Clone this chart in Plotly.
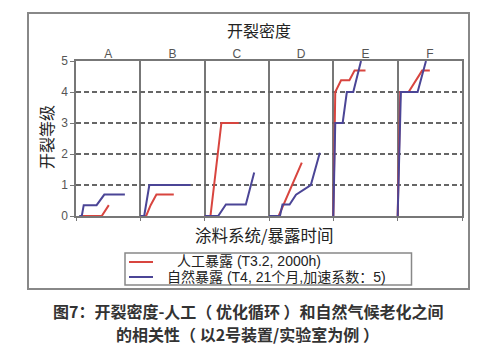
import plotly.graph_objects as go

# ---- data (per-panel x position as fraction of panel width, crack grade y) ----
panels = ["A", "B", "C", "D", "E", "F"]

red_x = {
    "A": [0.09, 0.40, 0.51],
    "B": [0.0, 0.09, 0.16, 0.25, 0.52],
    "C": [0.0, 0.09, 0.26, 0.53],
    "D": [0.0, 0.15, 0.51],
    "E": [0.0, 0.03, 0.12, 0.25, 0.33, 0.50],
    "F": [0.0, 0.04, 0.17, 0.38, 0.50],
}
red_y = {
    "A": [0, 0, 0.35],
    "B": [0, 0, 0.35, 0.69, 0.69],
    "C": [0, 0, 3.0, 3.0],
    "D": [0, 0, 1.72],
    "E": [0, 4.0, 4.38, 4.38, 4.69, 4.69],
    "F": [0, 4.0, 4.0, 4.69, 4.69],
}
blue_x = {
    "A": [0.05, 0.09, 0.12, 0.32, 0.44, 0.76],
    "B": [0.0, 0.06, 0.14, 0.78],
    "C": [0.0, 0.21, 0.33, 0.64, 0.77],
    "D": [0.0, 0.17, 0.21, 0.32, 0.42, 0.65, 0.79],
    "E": [0.0, 0.03, 0.145, 0.21, 0.31, 0.43],
    "F": [0.0, 0.05, 0.31, 0.44],
}
blue_y = {
    "A": [0, 0, 0.35, 0.35, 0.69, 0.69],
    "B": [0, 0, 1.0, 1.0],
    "C": [0, 0, 0.37, 0.37, 1.40],
    "D": [0, 0, 0.37, 0.37, 0.69, 1.0, 2.04],
    "E": [0, 3.0, 3.0, 4.0, 4.0, 5.0],
    "F": [0, 4.0, 4.0, 5.0],
}
y_ticks = [0, 1, 2, 3, 4, 5]

red_name = "人工暴露 (T3.2, 2000h)"
blue_name = "自然暴露 (T4, 21个月,加速系数：5)"
title_text = "开裂密度"
x_title = "涂料系统/暴露时间"
y_title = "开裂等级"
caption_lines = ["图7：开裂密度-人工（ 优化循环 ）和自然气候老化之间",
                 "的相关性（ 以2号装置/实验室为例 ）"]

RED = "#d8453f"
BLUE = "#4b4596"
FONT = "Liberation Sans, Arial, Noto Sans CJK SC, sans-serif"
CJK = "Noto Sans CJK SC, Liberation Sans, sans-serif"

# ---- layout geometry in px ----
W, H = 500, 351
L, T = 76, 61
PW, PH = 386, 155
R = W - L - PW
B = H - T - PH


def px(xp):
    return (xp - L) / PW


def py(yp):
    return (T + PH - yp) / PH


fig = go.Figure()
for i, p in enumerate(panels):
    fig.add_trace(go.Scatter(
        x=[i + v for v in red_x[p]], y=red_y[p], mode="lines",
        line=dict(color=RED, width=2), name=red_name,
        showlegend=False, hoverinfo="skip"))
for i, p in enumerate(panels):
    fig.add_trace(go.Scatter(
        x=[i + v for v in blue_x[p]], y=blue_y[p], mode="lines",
        line=dict(color=BLUE, width=2), name=blue_name,
        showlegend=False, hoverinfo="skip"))

# dummy trace for top axis labels
fig.add_trace(go.Scatter(x=[0, 6], y=[0, 0], xaxis="x2", mode="lines",
                         line=dict(width=0), showlegend=False, hoverinfo="skip"))

fig.update_layout(
    width=W, height=H,
    margin=dict(l=L, r=R, t=T, b=B),
    paper_bgcolor="white", plot_bgcolor="white",
    font=dict(family=FONT, color="#555"),
    xaxis=dict(range=[0, 6], tickvals=list(range(7)), showticklabels=False,
               ticks="outside", ticklen=3, tickcolor="#777",
               showgrid=True, gridcolor="#777", gridwidth=1.5,
               showline=True, linecolor="#777", linewidth=1.5, mirror=True,
               zeroline=False, fixedrange=True),
    xaxis2=dict(range=[0, 6], overlaying="x", side="top",
                tickvals=[i + 0.5 for i in range(len(panels))], ticktext=panels,
                ticks="", showgrid=False, showline=False, zeroline=False,
                tickfont=dict(size=12, color="#555", family=FONT)),
    yaxis=dict(range=[0, 5], tickvals=y_ticks, ticks="outside", ticklen=4,
               tickcolor="#777", tickfont=dict(size=12, color="#555", family=FONT),
               showgrid=True, gridcolor="#666", gridwidth=1.5, griddash="5px,3px",
               showline=True, linecolor="#777", linewidth=1.5, mirror=True,
               zeroline=False),
)

ann = []
ann.append(dict(text=title_text, x=px(259), y=py(30), xref="paper", yref="paper",
                showarrow=False, font=dict(size=16, color="#222", family=CJK),
                xanchor="center", yanchor="middle"))
ann.append(dict(text=x_title, x=px(264), y=py(235), xref="paper", yref="paper",
                showarrow=False, font=dict(size=16.5, color="#222", family=CJK),
                xanchor="center", yanchor="middle"))
ann.append(dict(text=y_title, x=px(46), y=py(137), xref="paper", yref="paper",
                showarrow=False, textangle=-90,
                font=dict(size=16, color="#222", family=CJK),
                xanchor="center", yanchor="middle"))
ann.append(dict(text=red_name, x=px(175), y=py(261), xref="paper", yref="paper",
                showarrow=False, font=dict(size=14, color="#222", family=FONT),
                xanchor="left", yanchor="middle"))
ann.append(dict(text=blue_name, x=px(165), y=py(277), xref="paper", yref="paper",
                showarrow=False, font=dict(size=14, color="#222", family=FONT),
                xanchor="left", yanchor="middle"))
for s, yc, xc in zip(caption_lines, [310.5, 334.0], [248, 247]):
    ann.append(dict(text="<b>" + s + "</b>", x=px(xc), y=py(yc), xref="paper",
                    yref="paper", showarrow=False,
                    font=dict(size=16, color="#333", family=CJK),
                    xanchor="center", yanchor="middle"))
fig.update_layout(annotations=ann)

shapes = []
# outer frame
shapes.append(dict(type="rect", xref="paper", yref="paper",
                   x0=px(28), x1=px(469), y0=py(289), y1=py(13),
                   line=dict(color="#888", width=2), fillcolor="rgba(0,0,0,0)"))
# legend box
shapes.append(dict(type="rect", xref="paper", yref="paper",
                   x0=px(125), x1=px(411.5), y0=py(285), y1=py(253),
                   line=dict(color="#888", width=1.5), fillcolor="rgba(0,0,0,0)"))
shapes.append(dict(type="line", xref="paper", yref="paper",
                   x0=px(129), x1=px(153), y0=py(262), y1=py(262),
                   line=dict(color=RED, width=2)))
shapes.append(dict(type="line", xref="paper", yref="paper",
                   x0=px(129), x1=px(153), y0=py(277), y1=py(277),
                   line=dict(color=BLUE, width=2)))
fig.update_layout(shapes=shapes)

fig.write_html("out.html")
